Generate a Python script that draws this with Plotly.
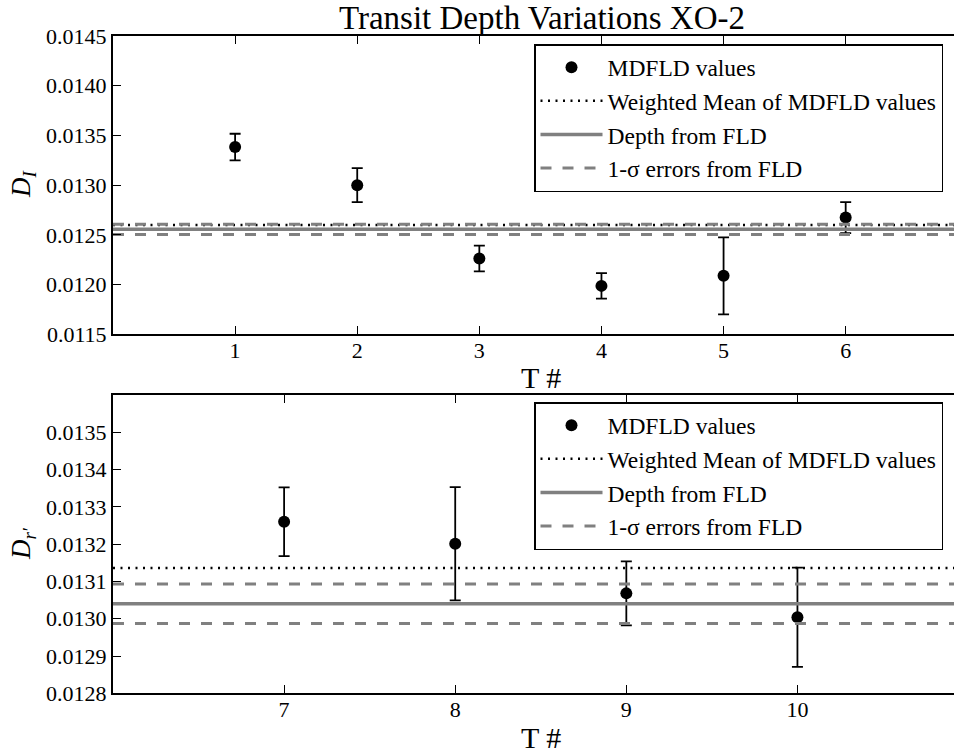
import plotly.graph_objects as go

# ---------------- data ----------------
top_t = [1, 2, 3, 4, 5, 6]
top_depth = [0.013383, 0.013000, 0.012262, 0.011987, 0.012088, 0.012674]
top_err = [0.000134, 0.000171, 0.000130, 0.000128, 0.000387, 0.000156]
top_wmean = 0.012598
top_fld = 0.012556
top_fld_err = 0.000052

bot_t = [7, 8, 9, 10]
bot_depth = [0.013260, 0.013201, 0.013068, 0.013004]
bot_err = [0.000092, 0.000152, 0.000086, 0.000133]
bot_wmean = 0.013136
bot_fld = 0.013040
bot_fld_err = 0.000053

top_xrange = [0, 6.887]
bot_xrange = [6, 10.915]
top_yrange = [0.0115, 0.0145]
bot_yrange = [0.0128, 0.0136]
top_xticks = [1, 2, 3, 4, 5, 6]
bot_xticks = [7, 8, 9, 10]
top_yticks = [0.0115, 0.0120, 0.0125, 0.0130, 0.0135, 0.0140, 0.0145]
bot_yticks = [0.0128, 0.0129, 0.0130, 0.0131, 0.0132, 0.0133, 0.0134, 0.0135]

labels = ["MDFLD values", "Weighted Mean of MDFLD values",
          "Depth from FLD", "1-\u03c3 errors from FLD"]

FONT = "Liberation Serif, Times New Roman, serif"
GREY = "#808080"
W, H = 954, 755

fig = go.Figure()


def add_panel(t, d, e, wmean, fld, fld_err, xr, xa, ya, legend):
    fig.add_trace(go.Scatter(
        x=t, y=d, mode="markers", name=labels[0], legend=legend,
        xaxis=xa, yaxis=ya,
        marker=dict(color="black", size=12, symbol="circle"),
        error_y=dict(type="data", array=e, visible=True, color="black",
                     thickness=1.8, width=5.5)))
    fig.add_trace(go.Scatter(
        x=xr, y=[wmean, wmean], mode="lines", name=labels[1], legend=legend,
        xaxis=xa, yaxis=ya,
        line=dict(color="black", width=2.5, dash="2px,5.5px")))
    fig.add_trace(go.Scatter(
        x=xr, y=[fld, fld], mode="lines", name=labels[2], legend=legend,
        xaxis=xa, yaxis=ya,
        line=dict(color=GREY, width=3.5)))
    fig.add_trace(go.Scatter(
        x=[xr[0], xr[1], None, xr[0], xr[1]],
        y=[fld + fld_err, fld + fld_err, None, fld - fld_err, fld - fld_err],
        mode="lines", name=labels[3], legend=legend,
        xaxis=xa, yaxis=ya, connectgaps=False,
        line=dict(color=GREY, width=3, dash="11px,11px")))


add_panel(top_t, top_depth, top_err, top_wmean, top_fld, top_fld_err,
          top_xrange, "x", "y", "legend")
add_panel(bot_t, bot_depth, bot_err, bot_wmean, bot_fld, bot_fld_err,
          bot_xrange, "x2", "y2", "legend2")

tickfont = dict(family=FONT, size=22, color="black")
xcommon = dict(showgrid=False, zeroline=False, showline=True, linecolor="black",
               linewidth=2, mirror="ticks", ticks="inside", ticklen=8,
               tickwidth=1, tickcolor="black", tickfont=tickfont, automargin=False,
               ticklabelstandoff=-5)
ycommon = dict(showgrid=False, zeroline=False, showline=True, linecolor="black",
               linewidth=2, mirror=False, ticks="inside", ticklen=8,
               tickwidth=1, tickcolor="black", tickfont=tickfont, automargin=False)

pl, pr = 113, 0


def dom(top_px, bot_px):
    return [1 - bot_px / H, 1 - top_px / H]


legend_common = dict(xanchor="left", yanchor="top",
                     bgcolor="white", bordercolor="black", borderwidth=1.5,
                     font=dict(family=FONT, size=23.5, color="black"),
                     itemwidth=62, tracegroupgap=0)

fig.update_layout(
    width=W, height=H,
    margin=dict(l=pl, r=pr, t=0, b=0, autoexpand=False),
    paper_bgcolor="white", plot_bgcolor="white",
    font=dict(family=FONT, color="black"),
    showlegend=True,
    xaxis=dict(domain=[0, 1], range=top_xrange, tickvals=top_xticks,
               anchor="y", **xcommon),
    yaxis=dict(domain=dom(36, 334.3), range=top_yrange, tickvals=top_yticks,
               tickformat=".4f", anchor="x", **ycommon),
    xaxis2=dict(domain=[0, 1], range=bot_xrange, tickvals=bot_xticks,
                anchor="y2", **xcommon),
    yaxis2=dict(domain=dom(395, 693.3), range=bot_yrange, tickvals=bot_yticks,
                tickformat=".4f", anchor="x2", **ycommon),
    title=dict(text="Transit Depth Variations XO-2", x=542 / W, xref="container",
               xanchor="center", y=1 - 17 / H, yref="container", yanchor="middle",
               font=dict(family=FONT, size=33, color="black")),
    legend=dict(x=(534 - pl) / (W - pl - pr), y=1 - 44 / H, **legend_common),
    legend2=dict(x=(534 - pl) / (W - pl - pr), y=1 - 402 / H, **legend_common),
)

annots = [
    dict(text="T #", x=541, y=377),
    dict(text="T #", x=541, y=737),
]
for a in annots:
    fig.add_annotation(text=a["text"], x=(a["x"] - pl) / (W - pl - pr), xref="paper",
                       y=1 - a["y"] / H, yref="paper", showarrow=False,
                       xanchor="center", yanchor="middle",
                       font=dict(family=FONT, size=30, color="black"))

ytitles = [
    dict(text="<i>D</i><sub><i>I</i></sub>", x=23, y=184),
    dict(text="<i>D</i><sub><i>r\u2032</i></sub>", x=23, y=544),
]
for a in ytitles:
    fig.add_annotation(text=a["text"], x=(a["x"] - pl) / (W - pl - pr), xref="paper",
                       y=1 - a["y"] / H, yref="paper", showarrow=False,
                       textangle=-90, xanchor="center", yanchor="middle",
                       font=dict(family=FONT, size=27, color="black"))

fig.write_html("out.html")
